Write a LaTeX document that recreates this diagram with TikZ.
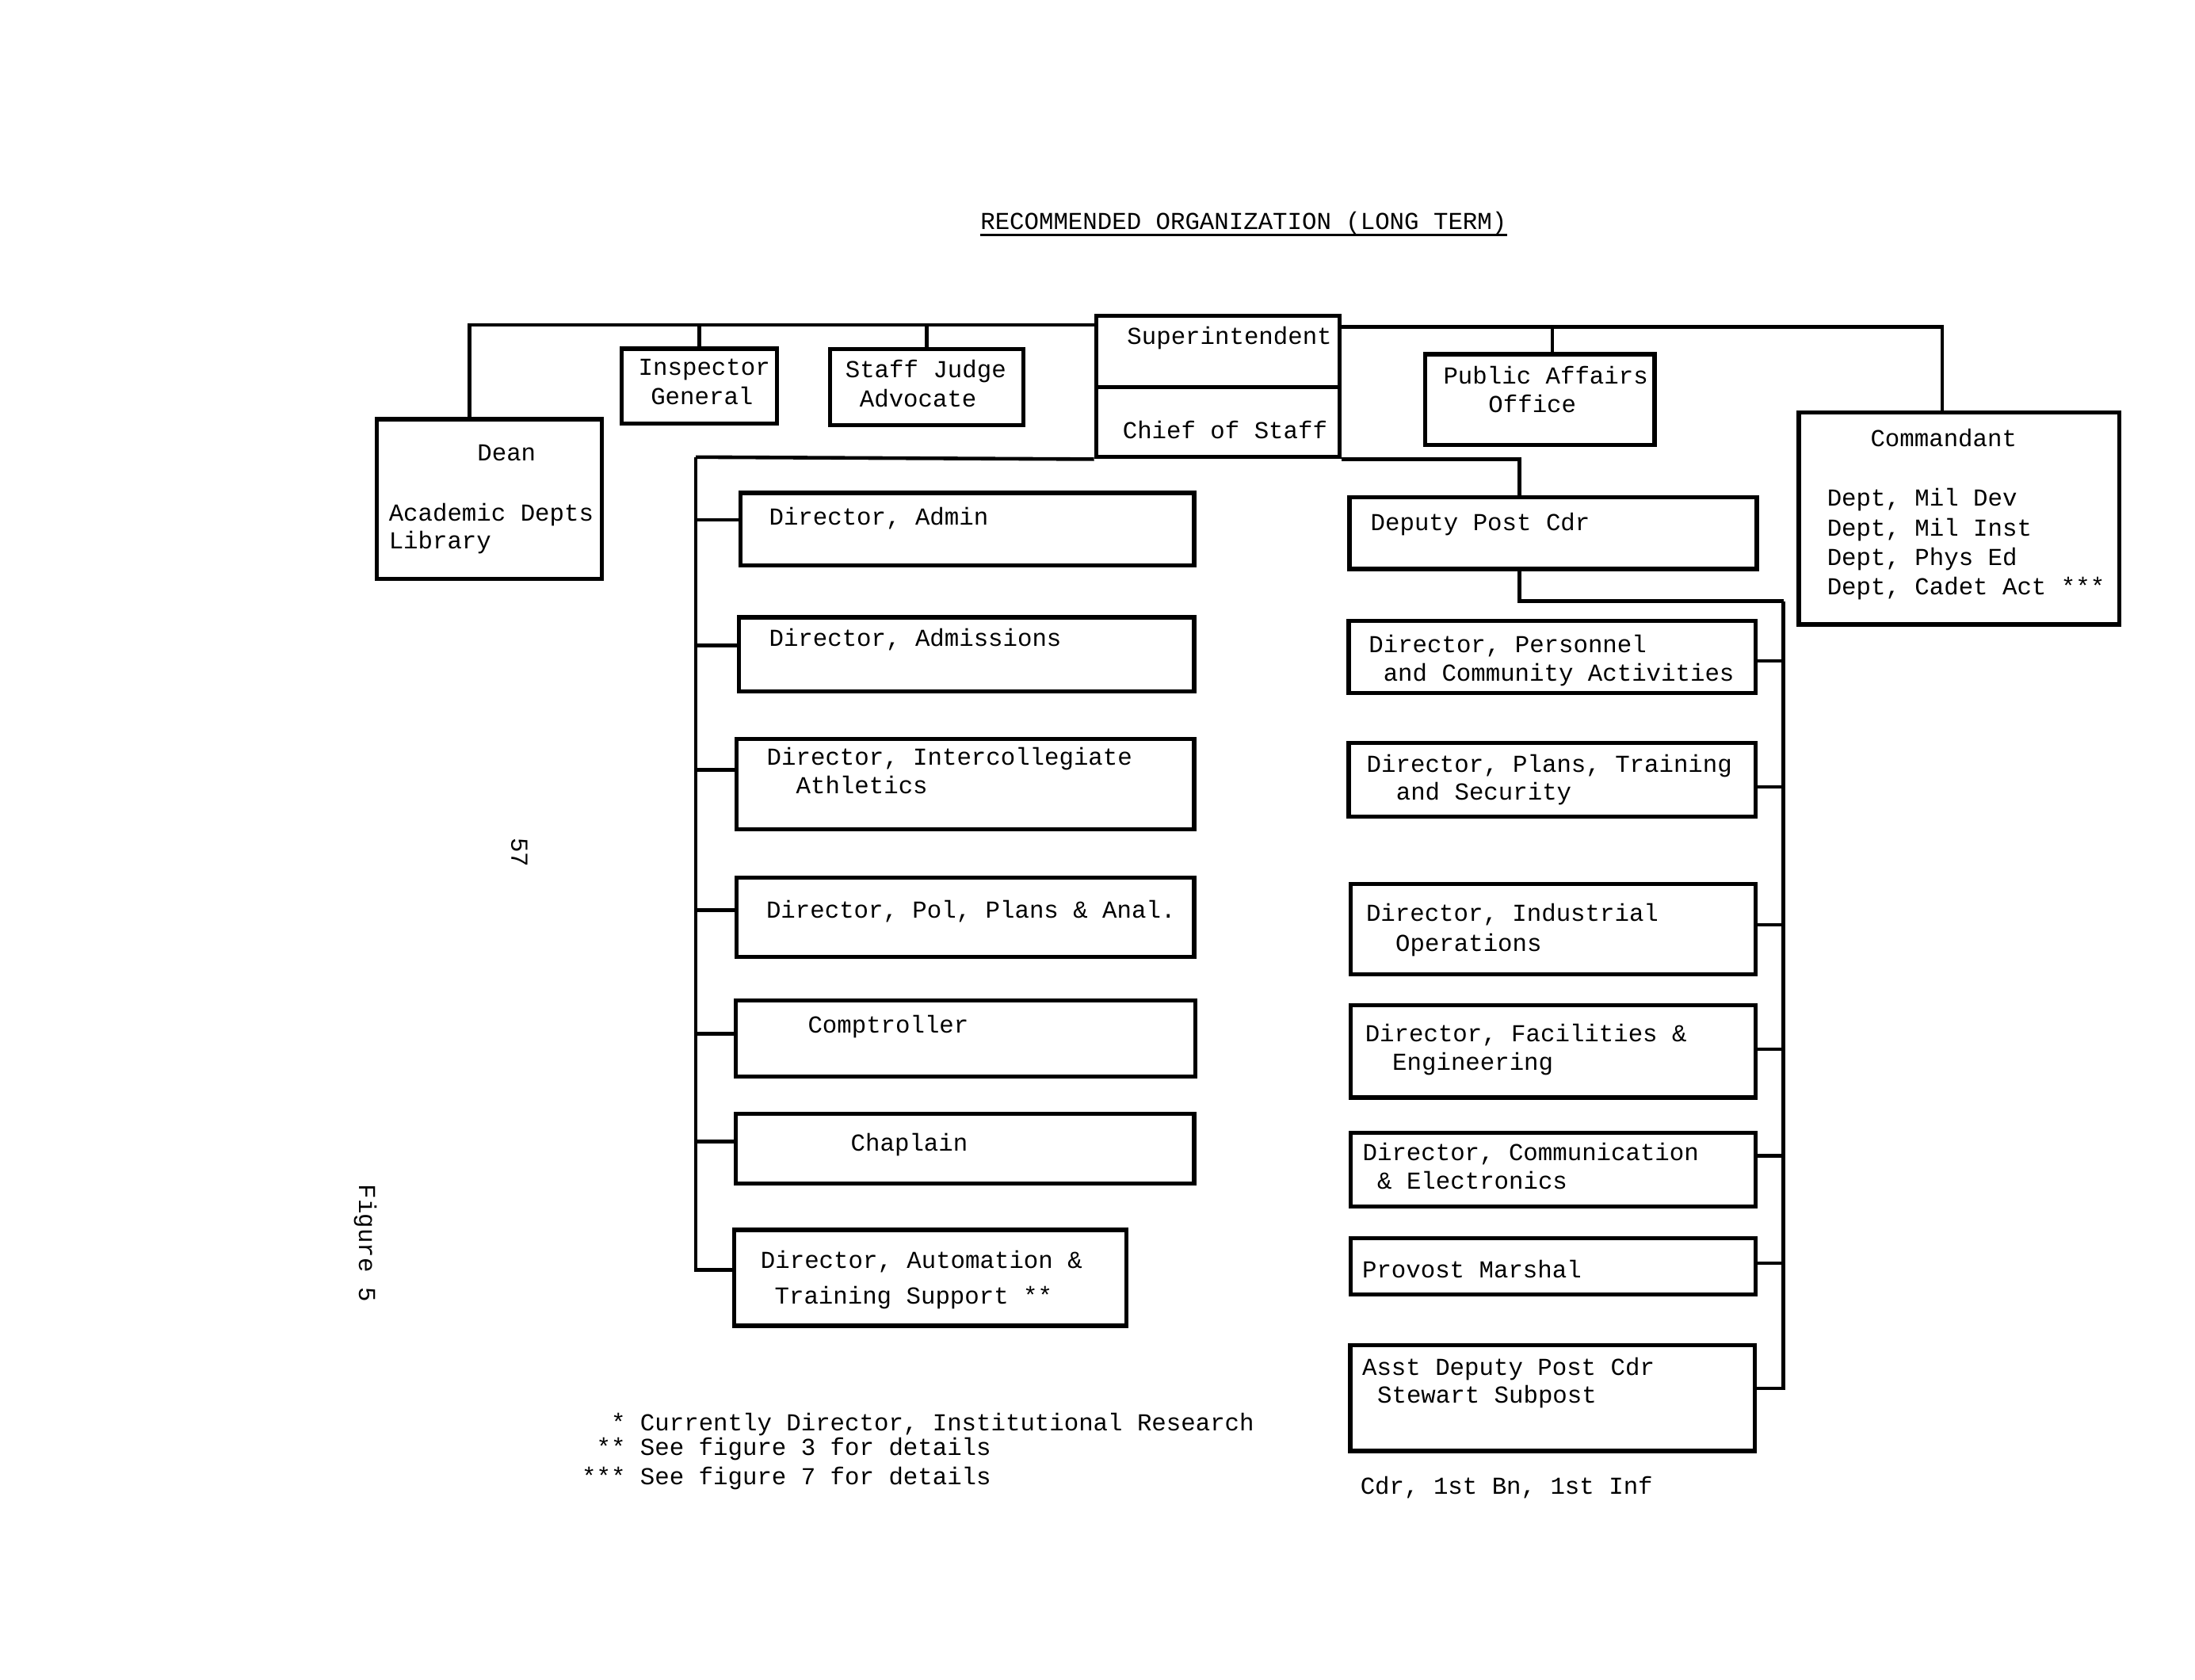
\documentclass[tikz,border=0pt]{standalone}
\usepackage{fontspec}
\setmonofont{Liberation Mono}
\usetikzlibrary{fit}
\tikzset{
  orgbox/.style={draw, line width=1.5pt, inner sep=0pt},
  conn/.style={line width=1.3pt},
  lbl/.style={anchor=base west, inner sep=0pt, font=\ttfamily\fontsize{8.7}{10.5}\selectfont},
}
\newcommand\obox[5]{%
  \coordinate (#1-nw) at (#2,#3);
  \coordinate (#1-se) at (#4,#5);
  \node[orgbox, fit=(#1-nw)(#1-se)] (#1) {};}
\begin{document}
\begin{tikzpicture}[x=0.5pt,y=-0.5pt]
\fill[white] (0,0) rectangle (1568,1200);
\useasboundingbox (0,0) rectangle (1568,1200);

% title
\node[lbl] (title) at (700,164) {RECOMMENDED ORGANIZATION (LONG TERM)};
\draw[line width=0.8pt] ([yshift=-1.8pt]title.base west) -- ([yshift=-1.8pt]title.base east);

% top row boxes
\obox{dean}{269}{299.5}{430}{413.5}
\obox{ig}{444}{249}{555}{302.5}
\obox{sja}{593}{249.5}{731}{303.5}
\obox{supt}{783}{225.5}{957}{276.5}
\obox{cos}{783}{276.5}{957}{326.5}
\obox{pa}{1018}{253}{1182}{318}
\obox{comm}{1285}{294.5}{1514}{446}

% left column
\obox{adm}{529}{352}{853}{404}
\obox{admis}{528}{441}{853}{494}
\obox{icath}{526}{528}{853}{592.5}
\obox{pol}{526}{627}{853}{683.5}
\obox{compt}{525.5}{714.5}{854}{769}
\obox{chap}{525.5}{795.5}{853}{845.5}
\obox{auto}{524.5}{878.5}{804.5}{947}

% right column
\obox{dpc}{964}{355}{1255}{406.5}
\obox{per}{963.5}{443.5}{1254}{495}
\obox{pts}{963.5}{530.5}{1254}{583.5}
\obox{ind}{965}{631.5}{1254}{696}
\obox{fac}{965}{718}{1254}{784}
\obox{com}{965}{809}{1254}{862}
\obox{pm}{965}{884.5}{1254}{924.5}
\obox{asst}{964.5}{961}{1253.5}{1036.5}

% bus coordinates
\coordinate (topL) at (335.5,232);
\coordinate (topR) at (1387,233.4);
\coordinate (bL) at (497,326.5);
\coordinate (rV) at (1274,429.4);
\coordinate (deanTop) at ([xshift=-7pt]dean.north);
\coordinate (paTop) at ([xshift=4.5pt]pa.north);
\coordinate (commTop) at ([xshift=-6pt]comm.north);
\coordinate (dpcTop) at ([xshift=-12pt]dpc.north);
\coordinate (dpcBot) at ([xshift=-12pt]dpc.south);

% top connectors
\draw[conn] (deanTop) |- (supt.west |- topL);
\draw[conn] (ig.north) -- (ig.north |- topL);
\draw[conn] (sja.north) -- (sja.north |- topL);
\draw[conn] (supt.east |- topR) -| (commTop);
\draw[conn] (paTop) -- (paTop |- topR);

% branch from chief of staff
\draw[conn] (cos.south west) -- (bL);
\draw[conn] (cos.south east) -| (dpcTop);
\draw[conn] (dpcBot) |- (rV);

% left stubs
\draw[conn] ([yshift=3.3pt]adm.west) -| (bL);
\draw[conn] ([yshift=3.3pt]admis.west) -| (bL);
\draw[conn] ([yshift=5.1pt]icath.west) -| (bL);
\draw[conn] ([yshift=2.5pt]pol.west) -| (bL);
\draw[conn] ([yshift=1.75pt]compt.west) -| (bL);
\draw[conn] ([yshift=2.6pt]chap.west) -| (bL);
\draw[conn] ([yshift=2.75pt]auto.west) -| (bL);

% right stubs
\draw[conn] ([yshift=-1.4pt]per.east) -| (rV);
\draw[conn] ([yshift=-2.5pt]pts.east) -| (rV);
\draw[conn] ([yshift=1.6pt]ind.east) -| (rV);
\draw[conn] ([yshift=0.8pt]fac.east) -| (rV);
\draw[conn] ([yshift=5pt]com.east) -| (rV);
\draw[conn] ([yshift=1.15pt]pm.east) -| (rV);
\draw[conn] ([yshift=3.5pt]asst.east) -| (rV);

% texts: top row
\node[lbl] (t-dean1) at (340.6,328.9) {Dean};
\node[lbl] (t-dean2) at (277.4,372.2) {Academic Depts};
\node[lbl] (t-dean3) at (277.4,392) {Library};
\node[lbl] (t-ig1) at (455.7,267.8) {Inspector};
\node[lbl] (t-ig2) at (464.5,288.7) {General};
\node[lbl] (t-sja1) at (603.5,269.8) {Staff Judge};
\node[lbl] (t-sja2) at (613.7,290.6) {Advocate};
\node[lbl] (t-supt) at (804.8,246.2) {Superintendent};
\node[lbl] (t-cos) at (801.6,313.2) {Chief of Staff};
\node[lbl] (t-pa1) at (1030.7,274.5) {Public Affairs};
\node[lbl] (t-pa2) at (1062.9,294.4) {Office};
\node[lbl] (t-comm0) at (1335.8,318.9) {Commandant};
\node[lbl] (t-comm1) at (1304.8,361.3) {Dept, Mil Dev};
\node[lbl] (t-comm2) at (1304.8,382.7) {Dept, Mil Inst};
\node[lbl] (t-comm3) at (1304.8,403.8) {Dept, Phys Ed};
\node[lbl] (t-comm4) at (1304.8,424.6) {Dept, Cadet Act ***};

% texts: left column
\node[lbl] (t-adm) at (549,375) {Director, Admin};
\node[lbl] (t-admis) at (549,461.4) {Director, Admissions};
\node[lbl] (t-ic1) at (547.4,546.8) {Director, Intercollegiate};
\node[lbl] (t-ic2) at (568.3,567) {Athletics};
\node[lbl] (t-pol) at (547,655.5) {Director, Pol, Plans \& Anal.};
\node[lbl] (t-compt) at (576.7,737.8) {Comptroller};
\node[lbl] (t-chap) at (607.4,822.3) {Chaplain};
\node[lbl] (t-auto1) at (543,906.1) {Director, Automation \&};
\node[lbl] (t-auto2) at (553,931.2) {Training Support **};

% texts: right column
\node[lbl] (t-dpc) at (978.7,378.9) {Deputy Post Cdr};
\node[lbl] (t-per1) at (977.4,466) {Director, Personnel};
\node[lbl] (t-per2) at (987.8,486.3) {and Community Activities};
\node[lbl] (t-pts1) at (975.9,551.9) {Director, Plans, Training};
\node[lbl] (t-pts2) at (996.9,571.4) {and Security};
\node[lbl] (t-ind1) at (975.5,658) {Director, Industrial};
\node[lbl] (t-ind2) at (996.5,679.6) {Operations};
\node[lbl] (t-fac1) at (974.8,744.2) {Director, Facilities \&};
\node[lbl] (t-fac2) at (994.3,764.2) {Engineering};
\node[lbl] (t-com1) at (973,829) {Director, Communication};
\node[lbl] (t-com2) at (983.5,849.1) {\& Electronics};
\node[lbl] (t-pm) at (972.7,912.8) {Provost Marshal};
\node[lbl] (t-asst1) at (972.7,982.4) {Asst Deputy Post Cdr};
\node[lbl] (t-asst2) at (983.5,1002.4) {Stewart Subpost};
\node[lbl] (t-cdr) at (971.4,1067.5) {Cdr, 1st Bn, 1st Inf};

% footnotes
\node[lbl] (fn1) at (415.2,1021.8) {\phantom{**}* Currently Director, Institutional Research};
\node[lbl] (fn2) at (415.2,1039.7) {\phantom{*}** See figure 3 for details};
\node[lbl] (fn3) at (415.2,1060.4) {*** See figure 7 for details};

% page marks
\node[font=\ttfamily\fontsize{8.7}{10.5}\selectfont, rotate=-90, inner sep=0pt] (pageno) at (371,609) {57};
\node[font=\ttfamily\fontsize{8.7}{10.5}\selectfont, rotate=-90, inner sep=0pt] (figlbl) at (261,888) {Figure 5};
\end{tikzpicture}
\end{document}
